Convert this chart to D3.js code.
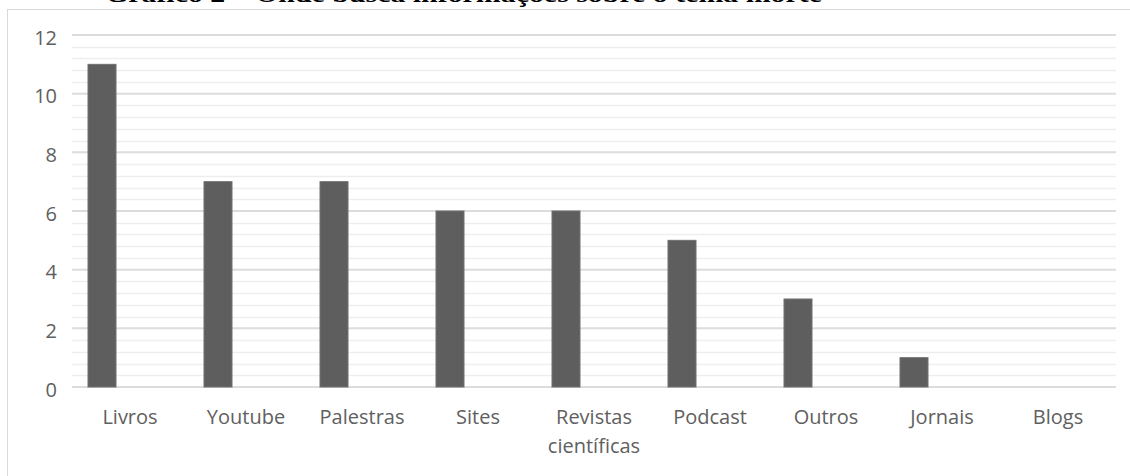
<!DOCTYPE html>
<html>
<head>
<meta charset="utf-8">
<script src="https://cdn.jsdelivr.net/npm/d3@7"></script>
<style>
  html, body { margin: 0; padding: 0; background: #fff; }
  svg { display: block; }
</style>
</head>
<body>
<svg id="chart" width="1130" height="476"></svg>
<script>
// Onde busca informações sobre o tema morte
const categories = ["Livros", "Youtube", "Palestras", "Sites", "Revistas científicas", "Podcast", "Outros", "Jornais", "Blogs"];
const values = [11, 7, 7, 6, 6, 5, 3, 1, 0];
const yTicks = [0, 2, 4, 6, 8, 10, 12];
const title = "Gráfico 2 – Onde busca informações sobre o tema morte";

const svg = d3.select("#chart");
const W = 1130, H = 476;
const plot = { left: 72, right: 1116, top: 35, bottom: 387 };
const labelFont = "'Open Sans', sans-serif";
const labelColor = "#606060";

// chart frame
svg.append("rect")
  .attr("x", 7.5).attr("y", 9.5)
  .attr("width", W + 10).attr("height", H + 10)
  .attr("fill", "#fff").attr("stroke", "#d9d9d9").attr("stroke-width", 1);

// title, mostly above the page edge
svg.append("text")
  .attr("x", 105).attr("y", 2)
  .attr("font-family", "'Liberation Serif', 'Times New Roman', serif")
  .attr("font-weight", "bold")
  .attr("font-size", 24)
  .attr("fill", "#000")
  .attr("textLength", 717)
  .attr("lengthAdjust", "spacingAndGlyphs")
  .text(title);

const x = d3.scaleBand().domain(categories).range([plot.left, plot.right]).padding(0);
// three slots per category, the first holds the bar
const slot = d3.scaleBand().domain([0, 1, 2]).range([16, x.bandwidth() - 16]).padding(0);
const y = d3.scaleLinear().domain([0, 12]).range([plot.bottom, plot.top]);

// minor gridlines
const minor = d3.range(0, 12.0001, 0.4).filter(v => Math.abs(v / 2 - Math.round(v / 2)) > 1e-6);
svg.append("g").selectAll("line").data(minor).join("line")
  .attr("x1", plot.left).attr("x2", plot.right)
  .attr("y1", d => Math.round(y(d)) + 0.5).attr("y2", d => Math.round(y(d)) + 0.5)
  .attr("stroke", "#eeeeee").attr("stroke-width", 1.5);

// major gridlines
svg.append("g").selectAll("line").data(yTicks).join("line")
  .attr("x1", plot.left).attr("x2", plot.right)
  .attr("y1", d => y(d)).attr("y2", d => y(d))
  .attr("stroke", "#dcdcdc").attr("stroke-width", 2);

// bars
svg.append("g").selectAll("rect").data(categories).join("rect")
  .attr("x", d => x(d) + slot(0))
  .attr("width", slot.bandwidth())
  .attr("y", (d, i) => y(values[i]))
  .attr("height", (d, i) => y(0) - y(values[i]))
  .attr("fill", "#5e5e5e")
  .attr("stroke", "#707070").attr("stroke-width", 1);

// y axis labels
const yAxis = d3.axisLeft(y).tickValues(yTicks).tickSize(0).tickPadding(0);
const gy = svg.append("g").attr("transform", `translate(${plot.left - 15},0)`).call(yAxis);
gy.select(".domain").remove();
gy.selectAll("text")
  .attr("font-family", labelFont)
  .attr("font-size", 20)
  .attr("fill", labelColor)
  .attr("dy", "0.45em");

// x axis labels
const xAxis = d3.axisBottom(x).tickSize(0).tickPadding(0);
const gx = svg.append("g").attr("transform", `translate(0,${plot.bottom})`).call(xAxis);
gx.select(".domain").remove();
gx.selectAll("text")
  .attr("font-family", labelFont)
  .attr("font-size", 20)
  .attr("fill", labelColor)
  .attr("dy", null)
  .attr("y", 37)
  .each(function (d) {
    const t = d3.select(this);
    const words = d.split(" ");
    if (words.length > 1) {
      t.text(null);
      words.forEach((w, i) => {
        t.append("tspan").attr("x", 0).attr("y", 37 + i * 29).text(w);
      });
    }
  });
</script>
</body>
</html>
